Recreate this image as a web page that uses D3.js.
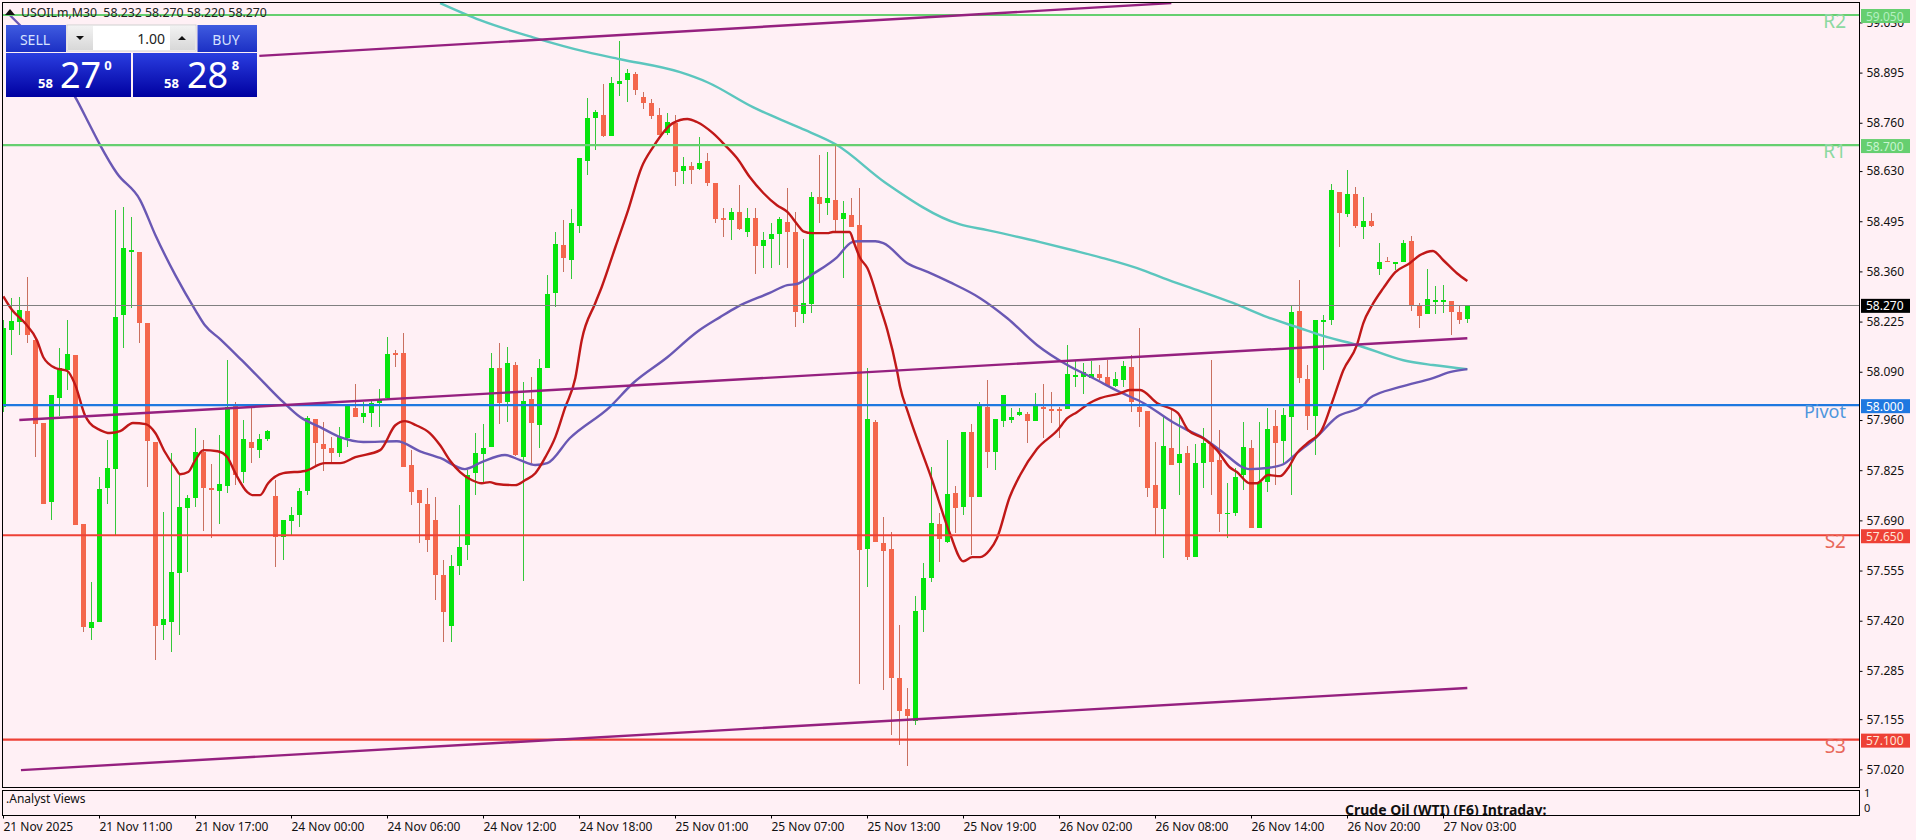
<!DOCTYPE html>
<html><head><meta charset="utf-8">
<script src="https://cdn.jsdelivr.net/npm/d3@7"></script>
<style>html,body{margin:0;padding:0;background:#fff0f5;overflow:hidden}svg{display:block}text{font-family:"Noto Sans",sans-serif}</style>
</head><body><svg id="c" width="1916" height="840"></svg>
<script>
const symbolTitle="USOILm,M30  58.232 58.270 58.220 58.270";
const opens=[57.995,58.202,58.223,58.253,58.175,57.952,57.739,58.019,58.094,58.135,
57.680,57.400,57.416,57.777,57.828,58.242,58.412,58.412,58.221,57.901,
57.408,57.416,57.548,57.723,57.750,57.874,57.777,57.769,57.782,58.000,
57.820,57.901,57.879,57.909,57.755,57.645,57.688,57.704,57.769,57.962,
57.895,57.884,57.871,57.911,57.992,57.968,57.979,58.006,58.019,58.140,
58.140,57.839,57.771,57.734,57.691,57.543,57.405,57.567,57.623,57.817,
57.868,57.887,58.100,58.008,58.108,57.860,58.016,57.946,58.100,58.302,
58.431,58.390,58.482,58.657,58.772,58.781,58.724,58.864,58.875,58.891,
58.829,58.813,58.781,58.732,58.759,58.630,58.643,58.635,58.657,58.598,
58.503,58.498,58.520,58.466,58.503,58.428,58.447,58.460,58.493,58.466,
58.245,58.272,58.560,58.544,58.552,58.501,58.511,58.485,57.613,57.954,
57.629,57.613,57.266,57.182,57.150,57.448,57.535,57.680,57.631,57.763,
57.726,57.927,57.753,57.995,57.874,57.957,57.960,57.973,57.976,57.957,
57.995,57.989,57.989,57.989,58.076,58.076,58.073,58.084,58.076,58.051,
58.067,58.102,57.995,57.984,57.785,57.720,57.884,57.844,57.871,57.591,
57.844,57.892,57.852,57.710,57.710,57.812,57.884,57.669,57.793,57.944,
57.903,57.968,58.253,58.070,57.971,58.224,58.229,58.573,58.514,58.568,
58.479,58.495,58.366,58.388,58.382,58.385,58.441,58.267,58.245,58.277,
58.277,58.280,58.250,58.232];
const highs=[58.229,58.288,58.291,58.345,58.180,57.952,58.027,58.154,58.229,58.135,
57.680,57.524,57.806,57.906,58.525,58.533,58.506,58.412,58.221,57.901,
57.712,57.871,57.812,57.758,57.938,57.906,57.841,57.919,58.121,58.008,
57.960,57.992,57.922,57.933,57.798,57.691,57.726,57.777,57.971,57.962,
57.954,57.914,57.941,57.997,58.057,58.008,58.014,58.043,58.183,58.148,
58.194,57.879,57.771,57.777,57.753,57.583,57.597,57.731,57.825,57.925,
57.949,58.140,58.167,58.156,58.116,58.062,58.075,58.124,58.350,58.466,
58.498,58.528,58.665,58.826,58.794,58.864,58.883,58.980,58.904,58.896,
58.842,58.824,58.799,58.786,58.781,58.668,58.654,58.721,58.678,58.598,
58.530,58.530,58.592,58.530,58.530,58.466,58.490,58.506,58.584,58.520,
58.447,58.573,58.673,58.681,58.703,58.549,58.557,58.584,58.100,57.960,
57.699,57.658,57.408,57.239,57.486,57.575,57.833,57.710,57.906,57.782,
57.927,57.949,58.008,58.067,57.962,58.027,57.992,57.992,57.981,58.032,
58.057,58.035,57.995,58.162,58.121,58.113,58.119,58.108,58.121,58.089,
58.119,58.135,58.207,57.984,57.901,57.973,57.987,57.968,57.890,57.895,
57.938,58.121,57.933,57.790,57.831,57.954,57.906,57.954,57.992,57.987,
57.992,58.269,58.337,58.108,58.229,58.242,58.595,58.573,58.633,58.587,
58.560,58.517,58.436,58.398,58.385,58.444,58.455,58.275,58.366,58.320,
58.323,58.280,58.269,58.270];
const lows=[57.981,58.135,58.189,58.167,57.860,57.734,57.691,57.971,58.040,57.677,
57.389,57.368,57.416,57.734,57.650,58.154,58.261,58.167,57.779,57.314,
57.368,57.335,57.381,57.551,57.726,57.661,57.642,57.680,57.763,57.785,
57.790,57.844,57.858,57.903,57.564,57.583,57.650,57.672,57.758,57.839,
57.823,57.844,57.860,57.887,57.968,57.952,57.941,57.941,58.014,58.102,
57.833,57.731,57.629,57.605,57.475,57.362,57.362,57.543,57.583,57.758,
57.793,57.887,57.949,57.954,57.863,57.527,57.844,57.884,58.100,58.264,
58.358,58.339,58.463,58.619,58.686,58.721,58.724,58.832,58.816,58.834,
58.797,58.770,58.727,58.727,58.589,58.595,58.595,58.633,58.589,58.490,
58.452,58.444,58.471,58.452,58.353,58.369,58.369,58.377,58.369,58.210,
58.221,58.248,58.490,58.511,58.466,58.342,58.479,57.249,57.510,57.631,
57.233,57.112,57.085,57.029,57.139,57.389,57.524,57.578,57.629,57.656,
57.704,57.597,57.753,57.831,57.825,57.941,57.952,57.971,57.898,57.957,
57.911,57.952,57.911,57.989,58.049,58.030,58.073,58.067,58.051,58.049,
58.049,57.981,57.941,57.753,57.650,57.588,57.839,57.758,57.583,57.591,
57.777,57.758,57.658,57.642,57.701,57.771,57.669,57.669,57.766,57.785,
57.844,57.758,58.059,57.933,57.866,58.094,58.215,58.425,58.506,58.476,
58.447,58.479,58.350,58.385,58.363,58.385,58.253,58.207,58.245,58.245,
58.248,58.189,58.218,58.220];
const closes=[58.207,58.226,58.256,58.189,57.949,57.734,58.027,58.100,58.137,57.677,
57.403,57.416,57.774,57.831,58.237,58.423,58.417,58.221,57.903,57.405,
57.424,57.551,57.726,57.750,57.874,57.777,57.774,57.788,57.995,57.812,
57.909,57.884,57.909,57.930,57.645,57.691,57.704,57.769,57.965,57.898,
57.882,57.871,57.914,57.997,57.968,57.979,58.006,58.016,58.137,58.137,
57.833,57.766,57.736,57.637,57.543,57.443,57.567,57.618,57.812,57.871,
57.884,58.100,58.006,58.113,57.866,58.011,57.952,58.100,58.299,58.433,
58.396,58.490,58.665,58.772,58.789,58.724,58.867,58.872,58.894,58.848,
58.813,58.778,58.727,58.762,58.627,58.643,58.633,58.651,58.598,58.501,
58.501,58.520,58.474,58.503,58.428,58.444,58.460,58.501,58.466,58.250,
58.275,58.560,58.541,58.557,58.498,58.517,58.479,57.610,57.962,57.631,
57.607,57.266,57.177,57.163,57.446,57.535,57.683,57.640,57.761,57.723,
57.927,57.753,57.997,57.874,57.962,58.027,57.968,57.981,57.957,58.000,
57.992,57.987,57.987,58.084,58.081,58.089,58.084,58.073,58.051,58.070,
58.105,58.008,57.981,57.777,57.723,57.890,57.839,57.868,57.591,57.844,
57.898,57.847,57.707,57.710,57.806,57.887,57.669,57.793,57.936,57.898,
57.973,58.250,58.073,57.971,58.229,58.229,58.579,58.517,58.568,58.482,
58.495,58.482,58.385,58.385,58.385,58.436,58.269,58.240,58.285,58.283,
58.283,58.250,58.229,58.270];

const fastMaBars=[0,1.1,2.7,4.2,5,6.5,8,9,10.2,10.8,12.1,13.3,14.6,16.2,17.8,19,20.2,21.5,22.1,23.1,24,25,26.8,28,29,30.5,31.1,32.1,33.1,35,37.7,40.2,42.1,44,47.1,49,50.2,51.6,53.3,54.6,55.8,57.1,58.6,59.8,60.8,61.7,64,65.2,66.5,67.7,69,70.2,71.5,72.3,74,74.8,76.5,78.1,79.8,81.2,83.7,85.5,86.7,88.7,90.2,91.7,93.3,95,96.7,98,99.3,100,101.1,103,103.7,105.8,106.3,107.1,108,109.6,110.5,111.7,112.1,113.1,116.1,118.3,120,121.1,122.1,123.3,124.2,125.8,127.1,129.2,131.8,133,134.2,135.8,137.1,139.6,140.8,142.1,144.2,146.8,148.1,150,151.7,153.3,154.2,155.8,156.7,158.1,159.6,160.6,161.7,163,164.8,166.2,167.5,169.2,170,171.1,172.5,174,175.8,177.1,178.7,180,181.7,183];
const fastMaValues=[58.293,58.256,58.221,58.175,58.129,58.100,58.092,58.054,57.973,57.952,57.933,57.925,57.930,57.952,57.949,57.925,57.874,57.831,57.814,57.820,57.852,57.879,57.876,57.860,57.817,57.766,57.758,57.758,57.790,57.817,57.823,57.844,57.844,57.860,57.879,57.946,57.957,57.946,57.925,57.892,57.852,57.820,57.798,57.790,57.793,57.788,57.785,57.798,57.817,57.858,57.914,57.992,58.073,58.175,58.275,58.318,58.425,58.525,58.641,58.694,58.759,58.770,58.762,58.732,58.700,58.665,58.614,58.571,58.538,58.520,58.485,58.468,58.463,58.463,58.466,58.466,58.439,58.396,58.369,58.264,58.202,58.094,58.049,57.979,57.798,57.656,57.580,57.591,57.591,57.610,57.642,57.753,57.812,57.882,57.933,57.965,57.981,58.006,58.019,58.032,58.041,58.041,58.006,57.979,57.933,57.911,57.879,57.833,57.820,57.790,57.790,57.812,57.809,57.831,57.871,57.898,57.933,58.014,58.094,58.162,58.221,58.269,58.315,58.358,58.382,58.404,58.415,58.390,58.355,58.334];
const midMaBars=[0.8,9.2,10.8,12.1,14.2,17.1,19,21.5,24,25.2,27.1,29.8,32.5,35,37.1,39.6,42.1,45,49.2,52.1,54.6,57.7,59.8,62.7,64.6,66.5,68,70.8,75.8,78.7,83,86.7,89.6,91.7,95.8,98,99.2,101.2,104.2,106.1,106.8,109,110,113,115.6,118.3,122.1,125.5,129.2,133,136.2,139.6,142.5,146.2,148,149.6,152.1,155.8,158,160,161.7,164,166.7,170,170.8,174.6,178.7,180.8,183];
const midMaValues=[59.050,58.821,58.754,58.700,58.624,58.552,58.458,58.350,58.256,58.215,58.178,58.121,58.062,58.008,57.968,57.941,57.914,57.901,57.903,57.876,57.858,57.828,57.847,57.866,57.852,57.839,57.844,57.911,57.995,58.059,58.129,58.197,58.237,58.264,58.302,58.323,58.326,58.353,58.398,58.439,58.441,58.441,58.436,58.382,58.358,58.331,58.288,58.234,58.162,58.108,58.073,58.035,58.006,57.954,57.933,57.917,57.879,57.828,57.831,57.841,57.871,57.911,57.968,58.000,58.019,58.049,58.073,58.089,58.097];
const slowMaBars=[54.6,59.6,66.2,73,77.1,84.6,88,93.7,99.6,104.2,110.3,119.5,123,129.6,133.7,137.1,142.5,145,149.6,153.7,158,162.1,165.5,169.2,175,178.7,183];
const slowMaValues=[59.082,59.036,58.990,58.950,58.931,58.896,58.869,58.802,58.746,58.700,58.598,58.487,58.471,58.439,58.417,58.398,58.363,58.342,58.307,58.275,58.237,58.207,58.183,58.162,58.121,58.108,58.097];

const channelBars=[[32,146],[2,183],[2.2,183]];
const channelValues=[[58.940,59.082],[57.960,58.180],[57.018,57.239]];

const levelNames=["R2","R1","Pivot","S2","S3"];
const levelValues=[59.05,58.7,58.0,57.65,57.1];
const levelColors=["#66cf70","#66cf70","#1f78e0","#ee4136","#ee4136"];
const levelTextColors=["#8cd9a0","#8cd9a0","#4f96dd","#e8695c","#e8695c"];
const levelTagText=["#b4f0c0","#c8f5d0","#ffffff","#ffe6d8","#ffe6d8"];
const lastPrice=58.27;
const priceTicks=[59.03,58.895,58.76,58.63,58.495,58.36,58.225,58.09,57.96,57.825,57.69,57.555,57.42,57.285,57.155,57.02];
const timeTickBars=[0,12,24,36,48,60,72,84,96,108,120,132,144,156,168,180];
const timeLabels=["21 Nov 2025","21 Nov 11:00","21 Nov 17:00","24 Nov 00:00","24 Nov 06:00","24 Nov 12:00","24 Nov 18:00","25 Nov 01:00","25 Nov 07:00","25 Nov 13:00","25 Nov 19:00","26 Nov 02:00","26 Nov 08:00","26 Nov 14:00","26 Nov 20:00","27 Nov 03:00"];

const L=2.5,R=1859.5,T=2.5,B=787.5,subT=790.5,subB=815.5;
const x=d3.scaleLinear().domain([0,183]).range([3.33,1467.33]);
const y=d3.scaleLinear().domain([59.05,57.02]).range([15,769.35]);
const svg=d3.select("#c");
const defs=svg.append("defs");
defs.append("clipPath").attr("id","pl").append("rect").attr("x",L).attr("y",T).attr("width",R-L).attr("height",B-T);
const grad=(id,a,b)=>{const g=defs.append("linearGradient").attr("id",id).attr("x1",0).attr("x2",0).attr("y1",0).attr("y2",1);g.append("stop").attr("offset",0).attr("stop-color",a);g.append("stop").attr("offset",1).attr("stop-color",b);};
grad("btn","#3f5be0","#1c30c4");grad("box","#2a3ee0","#0000a0");grad("gry","#f2f2f2","#d8d8d8");
svg.append("rect").attr("width",1916).attr("height",840).attr("fill","#fff0f5");

const plot=svg.append("g").attr("clip-path","url(#pl)");
const bull="#06e40e",bear="#f4664c",bullW="#35c83a",bearW="#c9705f";
const idx=d3.range(opens.length);
plot.append("g").attr("shape-rendering","crispEdges").selectAll("line").data(idx).join("line")
 .attr("x1",i=>Math.round(x(i))+.5).attr("x2",i=>Math.round(x(i))+.5).attr("y1",i=>y(highs[i])).attr("y2",i=>y(lows[i]))
 .attr("stroke",i=>closes[i]>=opens[i]?bullW:bearW);
plot.append("g").attr("shape-rendering","crispEdges").selectAll("rect").data(idx).join("rect")
 .attr("x",i=>Math.round(x(i))-2).attr("width",5)
 .attr("y",i=>y(Math.max(opens[i],closes[i])))
 .attr("height",i=>Math.max(1.5,Math.abs(y(opens[i])-y(closes[i]))))
 .attr("fill",i=>closes[i]>=opens[i]?bull:bear);

const ln=d3.line().x(d=>x(d[0])).y(d=>y(d[1]));
const smooth=d3.line().curve(d3.curveMonotoneX).x(d=>x(d[0])).y(d=>y(d[1]));
const addLine=(gen,b,v,c,w)=>plot.append("path").attr("d",gen(d3.zip(b,v))).attr("fill","none").attr("stroke",c).attr("stroke-width",w).attr("stroke-linejoin","round");
addLine(smooth,slowMaBars,slowMaValues,"#5cc6be",2.4);
addLine(smooth,midMaBars,midMaValues,"#6a58b4",2.4);
addLine(smooth,fastMaBars,fastMaValues,"#c01818",2.4);

plot.append("line").attr("x1",L).attr("x2",R).attr("y1",Math.round(y(lastPrice))+.5).attr("y2",Math.round(y(lastPrice))+.5).attr("stroke","#808080").attr("stroke-width",1);
levelValues.forEach((v,i)=>{plot.append("line").attr("x1",L).attr("x2",R).attr("y1",y(v)).attr("y2",y(v)).attr("stroke",levelColors[i]).attr("stroke-width",2.2);});
channelBars.forEach((b,i)=>addLine(ln,b,channelValues[i],"#95207f",2.4));

// level captions
levelNames.forEach((n,i)=>{
  svg.append("text").attr("x",1846).attr("y",y(levelValues[i])+8).attr("text-anchor","end").attr("dominant-baseline","middle")
   .attr("font-size",i==2?18:19).attr("fill",levelTextColors[i]).text(n);
});

// frames
const fr=(a,b,c,d)=>svg.append("rect").attr("x",a).attr("y",b).attr("width",c-a).attr("height",d-b).attr("fill","none").attr("stroke","#000").attr("stroke-width",1);
fr(L,T,R,B);fr(L,subT,R,subB);

// price axis
const ax=svg.append("g").attr("transform",`translate(${R},0)`).call(d3.axisRight(y).tickValues(priceTicks).tickFormat(d3.format(".3f")).tickSize(3).tickPadding(4));
ax.select(".domain").remove();
ax.selectAll("text").attr("font-family","'Noto Sans',sans-serif").attr("font-size",12).attr("fill","#111");
ax.selectAll("line").attr("stroke","#000");

// tags
const tag=(v,fill,tc)=>{const cy=y(v)+1;
 svg.append("rect").attr("x",1861).attr("y",cy-7).attr("width",49).attr("height",14).attr("fill",fill);
 svg.append("text").attr("x",1866).attr("y",cy).attr("dominant-baseline","central").attr("font-size",12).attr("fill",tc).text(d3.format(".3f")(v));};
levelValues.forEach((v,i)=>tag(v,levelColors[i],levelTagText[i]));
tag(lastPrice,"#000","#fff");

// sub-window
svg.append("text").attr("x",6).attr("y",803).attr("font-size",12).attr("fill","#111").text(".Analyst Views");
defs.append("clipPath").attr("id","sb").append("rect").attr("x",L).attr("y",subT).attr("width",R-L).attr("height",subB-subT);
svg.append("g").attr("clip-path","url(#sb)").append("text").attr("x",1345).attr("y",815).attr("font-size",14).attr("font-weight",700).attr("fill","#111").text("Crude Oil (WTI) (F6) Intraday:");
svg.append("text").attr("x",1864).attr("y",797).attr("font-size",11).attr("fill","#111").text("1");
svg.append("text").attr("x",1864).attr("y",812).attr("font-size",11).attr("fill","#111").text("0");

// time axis
const tg=svg.append("g");
timeTickBars.forEach((b,i)=>{const tx=Math.round(x(b))+.5;
 tg.append("line").attr("x1",tx).attr("x2",tx).attr("y1",subB).attr("y2",subB+3).attr("stroke","#000");
 tg.append("text").attr("x",tx).attr("y",831).attr("font-size",12).attr("fill","#111").text(timeLabels[i]);});

// title
svg.append("path").attr("d","M5 15L10 9L15 15Z").attr("fill","#111");
svg.append("text").attr("x",21).attr("y",12).attr("dominant-baseline","central").attr("font-size",12.3).attr("fill","#222").attr("xml:space","preserve").style("white-space","pre").text(symbolTitle);

// trade panel
const p=svg.append("g");
p.append("rect").attr("x",6).attr("y",25).attr("width",251).attr("height",72).attr("fill","#fff0f5");
p.append("rect").attr("x",6).attr("y",25).attr("width",60).attr("height",27).attr("fill","url(#btn)");
p.append("rect").attr("x",197.5).attr("y",25).attr("width",59.5).attr("height",27).attr("fill","url(#btn)");
p.append("rect").attr("x",6).attr("y",53).attr("width",125).attr("height",44).attr("fill","url(#box)");
p.append("rect").attr("x",133).attr("y",53).attr("width",124).attr("height",44).attr("fill","url(#box)");
p.append("rect").attr("x",67).attr("y",25).attr("width",129).attr("height",26).attr("fill","#fff").attr("stroke","#d0d0d0");
p.append("rect").attr("x",68).attr("y",26).attr("width",25).attr("height",24).attr("fill","url(#gry)");
p.append("rect").attr("x",170).attr("y",26).attr("width",25).attr("height",24).attr("fill","url(#gry)");
p.append("path").attr("d","M76 36H84L80 40Z").attr("fill","#111");
p.append("path").attr("d","M178 40H186L182 36Z").attr("fill","#111");
const tx=(s,a,b,fs,anchor,c,w)=>p.append("text").attr("x",a).attr("y",b).attr("text-anchor",anchor||"start").attr("dominant-baseline","central").attr("font-size",fs).attr("fill",c||"#fff").attr("font-weight",w||400).text(s);
tx("SELL",35,39,14,"middle","#d6e2ff");
tx("BUY",226,39,14,"middle","#d6e2ff");
tx("1.00",165,38,14,"end","#222");
tx("58",38,82.5,13,"start","#fff",700);
tx("27",60,74,36,"start");
tx("0",108,65,13,"middle","#fff",700);
tx("58",164,82.5,13,"start","#fff",700);
tx("28",187,74,36,"start");
tx("8",235.5,65,13,"middle","#fff",700);
</script></body></html>
